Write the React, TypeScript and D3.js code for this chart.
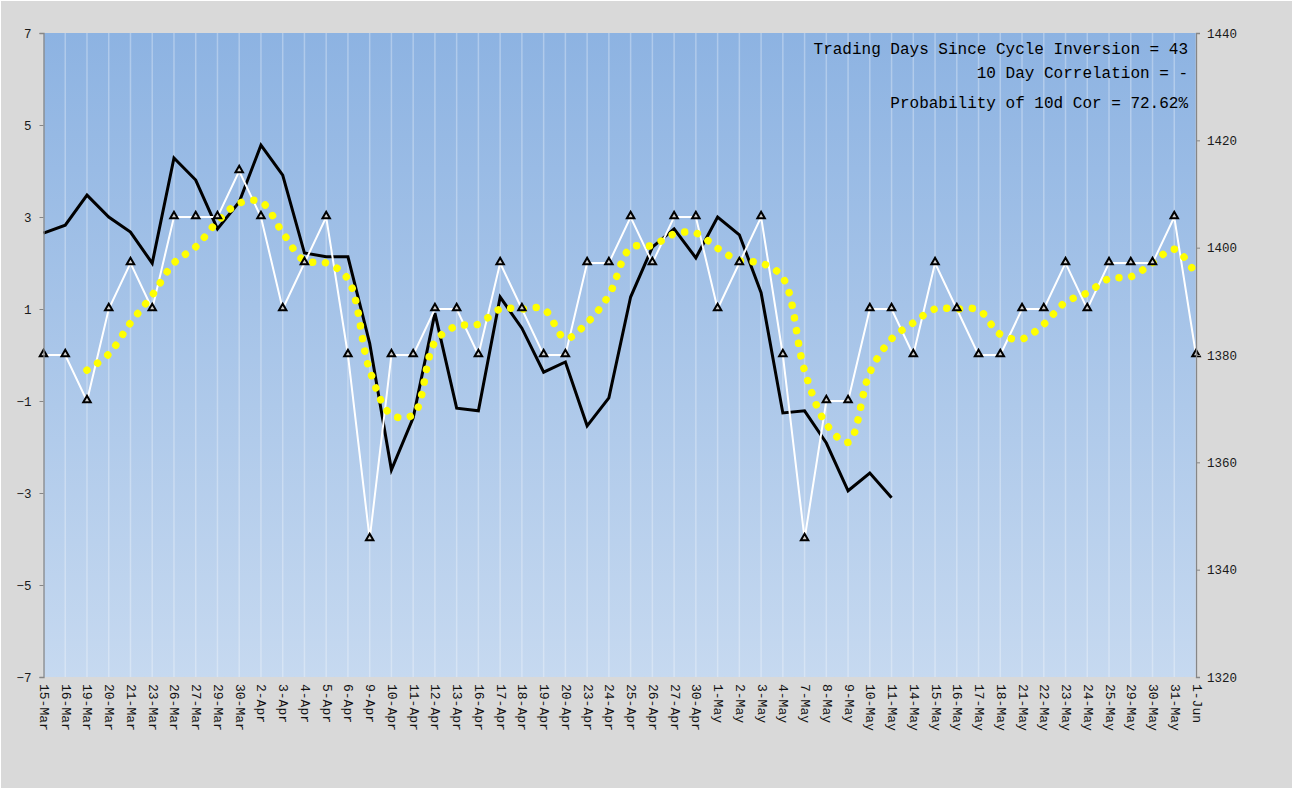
import { useEffect, useRef } from "react";
import * as d3 from "d3";

// categories (trading days)
const dates: string[] = [
  "15-Mar", "16-Mar", "19-Mar", "20-Mar", "21-Mar", "23-Mar", "26-Mar", "27-Mar", "29-Mar", "30-Mar",
  "2-Apr", "3-Apr", "4-Apr", "5-Apr", "6-Apr", "9-Apr", "10-Apr", "11-Apr", "12-Apr", "13-Apr",
  "16-Apr", "17-Apr", "18-Apr", "19-Apr", "20-Apr", "23-Apr", "24-Apr", "25-Apr", "26-Apr", "27-Apr",
  "30-Apr", "1-May", "2-May", "3-May", "4-May", "7-May", "8-May", "9-May", "10-May", "11-May",
  "14-May", "15-May", "16-May", "17-May", "18-May", "21-May", "22-May", "23-May", "24-May", "25-May",
  "29-May", "30-May", "31-May", "1-Jun",
];

// white series with triangle markers (left axis)
const cycle: number[] = [
  0, 0, -1, 1, 2, 1, 3, 3, 3, 4,
  3, 1, 2, 3, 0, -4, 0, 0, 1, 1,
  0, 2, 1, 0, 0, 2, 2, 3, 2, 3,
  3, 1, 2, 3, 0, -4, -1, -1, 1, 1,
  0, 2, 1, 0, 0, 1, 1, 2, 1, 2,
  2, 2, 3, 0,
];

// yellow dotted smoothed series (left axis)
const smooth: (number | null)[] = [
  null, null, -0.33, 0.02, 0.7, 1.3, 2.0, 2.35, 2.9, 3.3,
  3.33, 2.66, 2.05, 2.0, 1.65, -0.33, -1.3, -1.3, 0.28, 0.63,
  0.67, 1.0, 1.0, 1.0, 0.36, 0.7, 1.3, 2.33, 2.38, 2.63,
  2.65, 2.32, 2.05, 2.0, 1.68, -0.34, -1.5, -1.9, -0.38, 0.35,
  0.7, 1.0, 1.0, 0.98, 0.45, 0.35, 0.67, 1.15, 1.35, 1.66,
  1.7, 2.0, 2.3, 1.75,
];

// black price series (right axis)
const price: number[] = [
  1402.7, 1404.2, 1409.8, 1405.7, 1402.9, 1397.1, 1416.7, 1412.6, 1403.5, 1408.5,
  1419.1, 1413.5, 1399.0, 1398.3, 1398.3, 1382.2, 1358.6, 1368.3, 1387.8, 1370.1,
  1369.6, 1390.8, 1385.0, 1376.8, 1378.7, 1366.8, 1372.0, 1390.8, 1400.1, 1403.5,
  1398.1, 1405.7, 1402.4, 1391.6, 1369.2, 1369.6, 1363.6, 1354.7, 1358.0, 1353.4,
];

const leftTicks = [-7, -5, -3, -1, 1, 3, 5, 7];
const rightTicks = [1320, 1340, 1360, 1380, 1400, 1420, 1440];

const infoLines = [
  "Trading Days Since Cycle Inversion = 43",
  "10 Day Correlation = -",
  "Probability of 10d Cor = 72.62%",
];

const W = 1293;
const H = 791;
const plot = { left: 43.5, right: 1196, top: 33, bottom: 677 };
const mono = "'Liberation Mono', 'DejaVu Sans Mono', monospace";

export default function App() {
  const leftAxisRef = useRef<SVGGElement | null>(null);
  const rightAxisRef = useRef<SVGGElement | null>(null);

  const x = d3.scalePoint<string>().domain(dates).range([plot.left, plot.right]).padding(0);
  const yL = d3.scaleLinear().domain([-7, 7]).range([plot.bottom, plot.top]);
  const yR = d3.scaleLinear().domain([1320, 1440]).range([plot.bottom, plot.top]);

  useEffect(() => {
    document.body.style.margin = "0";
  }, []);

  useEffect(() => {
    const styleAxis = (g: d3.Selection<SVGGElement, unknown, null, undefined>) => {
      g.select(".domain").attr("stroke", "#868686").attr("stroke-width", 1.3);
      g.selectAll(".tick line").attr("stroke", "#868686");
      g.selectAll(".tick text")
        .attr("fill", "#1a1a1a")
        .style("font-family", mono)
        .style("font-size", "12.5px");
    };
    const gl = d3.select(leftAxisRef.current!);
    gl.call(d3.axisLeft(yL).tickValues(leftTicks).tickSize(4).tickSizeOuter(4).tickPadding(8).tickFormat(d3.format("d")));
    styleAxis(gl);
    const gr = d3.select(rightAxisRef.current!);
    gr.call(d3.axisRight(yR).tickValues(rightTicks).tickSize(4).tickSizeOuter(4).tickPadding(7).tickFormat(d3.format("d")));
    styleAxis(gr);
  }, []);

  const cycleLine = d3
    .line<number>()
    .x((_, i) => x(dates[i])!)
    .y((d) => yL(d));

  const smoothLine = d3
    .line<number | null>()
    .defined((d) => d !== null)
    .x((_, i) => x(dates[i])!)
    .y((d) => yL(d as number))
    .curve(d3.curveCatmullRom.alpha(0.5));

  const priceLine = d3
    .line<number>()
    .x((_, i) => x(dates[i])!)
    .y((d) => yR(d));

  const tri = d3.symbol().type(d3.symbolTriangle).size(24)();

  return (
    <svg width={W} height={H} style={{ display: "block" }}>
      <defs>
        <linearGradient id="plotBg" x1="0" y1="0" x2="0" y2="1">
          <stop offset="0%" stopColor="#8db3e2" />
          <stop offset="100%" stopColor="#c6d9f0" />
        </linearGradient>
      </defs>
      <rect x={0} y={0} width={W} height={H} fill="#ffffff" />
      <rect x={1} y={1} width={W - 2} height={H - 4} fill="#d9d9d9" />
      <rect
        x={plot.left}
        y={plot.top}
        width={plot.right - plot.left}
        height={plot.bottom - plot.top}
        fill="url(#plotBg)"
      />
      {/* vertical gridlines */}
      {dates.map((d) => (
        <line
          key={"g" + d}
          x1={x(d)}
          x2={x(d)}
          y1={plot.top}
          y2={plot.bottom}
          stroke="#ffffff"
          strokeOpacity={0.3}
          strokeWidth={1.5}
        />
      ))}

      <path d={priceLine(price) || ""} fill="none" stroke="#000000" strokeWidth={3} strokeLinejoin="miter" />
      <path d={cycleLine(cycle) || ""} fill="none" stroke="#ffffff" strokeWidth={2} />
      <path
        d={smoothLine(smooth) || ""}
        fill="none"
        stroke="#ffff00"
        strokeWidth={7.5}
        strokeLinecap="round"
        strokeDasharray="0.01 12.8"
      />
      {cycle.map((v, i) => (
        <path
          key={"m" + i}
          d={tri || ""}
          transform={`translate(${x(dates[i])},${yL(v) - 1})`}
          fill="#d0d0d0"
          stroke="#000000"
          strokeWidth={2}
        />
      ))}

      <g ref={leftAxisRef} transform={`translate(${plot.left},0)`} />
      <g ref={rightAxisRef} transform={`translate(${plot.right},0)`} />

      {/* rotated category labels */}
      {dates.map((d) => (
        <text
          key={"l" + d}
          transform={`translate(${x(d)},${plot.bottom + 7}) rotate(90)`}
          dominantBaseline="central"
          fontFamily={mono}
          fontSize={13}
          fill="#111111"
        >
          {d}
        </text>
      ))}

      {/* info text */}
      {infoLines.map((t, i) => (
        <text
          key={"t" + i}
          x={1188}
          y={[54, 78, 108][i]}
          textAnchor="end"
          fontFamily={mono}
          fontSize={16}
          fill="#000000"
        >
          {t}
        </text>
      ))}
    </svg>
  );
}
